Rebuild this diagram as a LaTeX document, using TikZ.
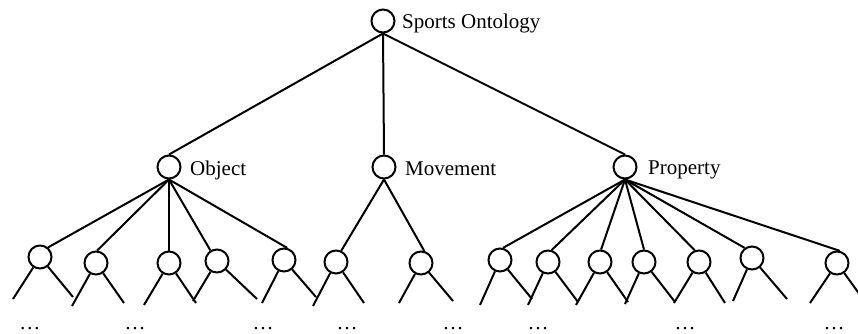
\documentclass[tikz,border=0pt]{standalone}
\usepackage{fontspec}
\setmainfont{Liberation Serif}
\begin{document}
\begin{tikzpicture}[x=1pt,y=-1pt,
  concept/.style={circle,draw,line width=2pt,minimum size=23pt,inner sep=0pt},
  link/.style={line width=2pt},
  lbl/.style={anchor=base west,inner sep=0pt,font=\fontsize{21}{24}\selectfont},
  more/.style={anchor=base,inner sep=0pt,font=\fontsize{21}{24}\selectfont}]
\useasboundingbox (0,0) rectangle (858,333);
\clip (0,0) rectangle (858,333);

% top levels
\node[concept] (root) at (383,21) {};
\node[lbl] (rootlbl) at (402,28) {Sports Ontology};
\node[concept] (obj) at (169,167) {};
\node[lbl] (objlbl) at (190,175) {Object};
\node[concept] (mov) at (384,167) {};
\node[lbl] (movlbl) at (405,175) {Movement};
\node[concept] (prop) at (625,167) {};
\node[lbl] (proplbl) at (648,174) {Property};

\draw[link] (root.south) -- (obj.north);
\draw[link] (root.south) -- (mov.north);
\draw[link] (root.south) -- (prop.north);

% leaves with their two open branches
\foreach \n/\x/\y/\lx/\ly/\rx/\ry in {
  1/40/257/13/299/73/297,
  2/96/263/72/306/124/303,
  3/169/263/144/305/196/303,
  4/217/261/193/301/257/299,
  5/284/260/262/303/316/297,
  6/336/262/313/306/364/303,
  7/421/263/399/303/453/301,
  8/500/260/480/305/532/299,
  9/548/262/528/305/578/302,
  10/600/262/576/305/628/302,
  11/644/262/625/304/675/302,
  12/699/262/674/303/725/303,
  13/752/258/733/301/787/299,
  14/837/263/810/303/868/306}{
  \node[concept] (leaf\n) at (\x,\y) {};
  \coordinate (leaf\n-l) at (\lx,\ly);
  \coordinate (leaf\n-r) at (\rx,\ry);
  \draw[link] (leaf\n) -- (leaf\n-l);
  \draw[link] (leaf\n) -- (leaf\n-r);
}

% Object children
\draw[link] (obj.south) -- (leaf1.50);
\draw[link] (obj.south) -- (leaf2.85);
\draw[link] (obj.south) -- (leaf3.north);
\draw[link] (obj.south) -- (leaf4.122);
\draw[link] (obj.south) -- (leaf5.75);

% Movement children
\draw[link] (mov.south) -- (leaf6.65);
\draw[link] (mov.south) -- (leaf7.75);

% Property children
\draw[link] (prop.south) -- (leaf8.76);
\draw[link] (prop.south) -- (leaf9.73);
\draw[link] (prop.south) -- (leaf10.85);
\draw[link] (prop.south) -- (leaf11.north);
\draw[link] (prop.south) -- (leaf12.110);
\draw[link] (prop.south) -- (leaf13.126);
\draw[link] (prop.south) -- (leaf14.77);

% continuation marks
\foreach \k/\x in {1/30,2/135,3/263,4/347,5/453,6/538,7/685,8/834}{
  \node[more] (dots\k) at (\x,329) {…};
}
\end{tikzpicture}
\end{document}
